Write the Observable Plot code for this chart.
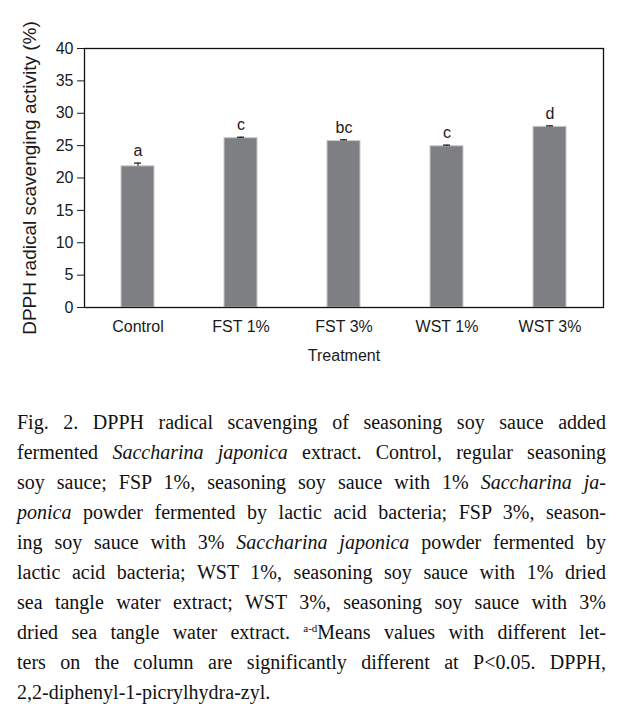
<!DOCTYPE html>
<html>
<head>
<meta charset="utf-8">
<script src="https://cdn.jsdelivr.net/npm/d3@7"></script>
<script src="https://cdn.jsdelivr.net/npm/@observablehq/plot@0.6"></script>
<style>
  body { margin: 0; background: #fff; }
  #caption { font-family: "Liberation Serif", "Times New Roman", serif; font-size: 20px; line-height: 30px; color: #111; width: 589px; margin: 32px 0 0 17px; }
  #caption .l { text-align: justify; text-align-last: justify; white-space: nowrap; }
  #caption .last { text-align: left; text-align-last: left; }
  #caption sup { font-size: 11px; vertical-align: 7px; line-height: 0; }
</style>
</head>
<body>
<div id="chart"></div>
<div id="caption">
  <div class="l">Fig. 2. DPPH radical scavenging of seasoning soy sauce added</div>
  <div class="l">fermented <i>Saccharina japonica</i> extract. Control, regular seasoning</div>
  <div class="l">soy sauce; FSP 1%, seasoning soy sauce with 1% <i>Saccharina ja-</i></div>
  <div class="l"><i>ponica</i> powder fermented by lactic acid bacteria; FSP 3%, season-</div>
  <div class="l">ing soy sauce with 3% <i>Saccharina japonica</i> powder fermented by</div>
  <div class="l">lactic acid bacteria; WST 1%, seasoning soy sauce with 1% dried</div>
  <div class="l">sea tangle water extract; WST 3%, seasoning soy sauce with 3%</div>
  <div class="l">dried sea tangle water extract. <sup>a-d</sup>Means values with different let-</div>
  <div class="l">ters on the column are significantly different at P&lt;0.05. DPPH,</div>
  <div class="l last">2,2-diphenyl-1-picrylhydra-zyl.</div>
</div>
<script>
const treatments = ["Control", "FST 1%", "FST 3%", "WST 1%", "WST 3%"];
const means = [21.8, 26.15, 25.7, 24.9, 27.9];
const errors = [0.5, 0.15, 0.2, 0.18, 0.15];
const letters = ["a", "c", "bc", "c", "d"];
const yTicks = [0, 5, 10, 15, 20, 25, 30, 35, 40];
const yTitle = "DPPH radical scavenging activity (%)";
const xTitle = "Treatment";

const data = treatments.map((t, i) => ({treatment: t, mean: means[i], err: errors[i], top: means[i] + errors[i], letter: letters[i]}));

const chart = Plot.plot({
  width: 637,
  height: 375,
  marginTop: 48,
  marginBottom: 68,
  marginLeft: 84,
  marginRight: 34,
  style: {fontFamily: "'Liberation Sans', Arial, sans-serif", fontSize: "16px", color: "#1a1a1a", background: "#fff"},
  x: {domain: treatments, paddingInner: 0.68, paddingOuter: 0.34},
  y: {domain: [0, 40]},
  marks: [
    Plot.barY(data, {x: "treatment", y: "mean", fill: "#7e7f83", stroke: "#c9c9cb", strokeWidth: 1}),
    Plot.ruleX(data, {x: "treatment", y1: "mean", y2: "top", stroke: "#111", strokeWidth: 1}),
    Plot.tickY(data, {x: "treatment", y: "top", stroke: "#111", strokeWidth: 1.2, insetLeft: 13, insetRight: 13}),
    Plot.text(data, {x: "treatment", y: "top", text: "letter", dy: -12, lineAnchor: "middle", fontSize: 16, fill: "#1a1a1a"}),
    Plot.frame({stroke: "#111", strokeWidth: 1.3}),
    Plot.axisY({ticks: yTicks, tickSize: 7, tickPadding: 4, fontSize: 16, label: null}),
    Plot.axisX({tickSize: 0, tickPadding: 13, fontSize: 16, label: null}),
    Plot.text([yTitle], {text: d => d, frameAnchor: "left", rotate: -90, dx: -55, textAnchor: "middle", lineAnchor: "middle", fontSize: 19, fill: "#1a1a1a"}),
    Plot.text([xTitle], {text: d => d, frameAnchor: "bottom", dy: 48, lineAnchor: "middle", fontSize: 16, fill: "#1a1a1a"})
  ]
});
document.getElementById("chart").append(chart);
</script>
</body>
</html>
